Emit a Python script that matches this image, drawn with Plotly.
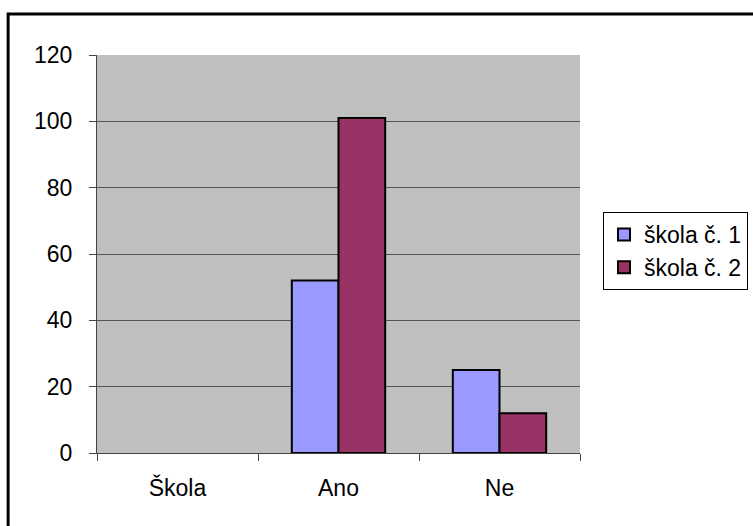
import plotly.graph_objects as go

categories = ["Škola", "Ano", "Ne"]
series1_name = "škola č. 1"
series2_name = "škola č. 2"
series1 = [None, 52, 25]
series2 = [None, 101, 12]
y_ticks = [0, 20, 40, 60, 80, 100, 120]

font = dict(family="Liberation Sans, Arial, sans-serif", size=23, color="black")

fig = go.Figure()
fig.add_trace(go.Bar(x=categories, y=series1, name=series1_name,
                     marker=dict(color="#9999FF", line=dict(color="black", width=2))))
fig.add_trace(go.Bar(x=categories, y=series2, name=series2_name,
                     marker=dict(color="#993366", line=dict(color="black", width=2))))

fig.update_layout(
    width=753, height=526,
    margin=dict(l=97, r=173, t=55, b=73, pad=0, autoexpand=False),
    paper_bgcolor="white", plot_bgcolor="#C0C0C0",
    font=font,
    barmode="group", bargap=0.42, bargroupgap=0,
    showlegend=True,
    legend=dict(xref="container", yref="container", x=603 / 753, y=1 - 212 / 526,
                xanchor="left", yanchor="top",
                bordercolor="black", borderwidth=1, bgcolor="white",
                font=font, itemwidth=30),
    xaxis=dict(type="category", tickson="boundaries", ticks="outside", ticklen=7,
               tickcolor="#444", showline=True, linecolor="#444", linewidth=1,
               showgrid=False, tickfont=font, ticklabelstandoff=14),
    yaxis=dict(range=[0, 120], tickvals=y_ticks, ticks="outside", ticklen=7,
               tickcolor="#444", showline=True, linecolor="#444", linewidth=1,
               showgrid=True, gridcolor="#555555", gridwidth=1,
               tickfont=font, zeroline=False, ticklabelstandoff=12),
    shapes=[dict(type="rect", xref="paper", yref="paper",
                 x0=-0.184, x1=1.4, y0=-0.25, y1=1.103,
                 line=dict(color="black", width=3), layer="below")],
)

fig.write_html("out.html", config={"displayModeBar": False},
               post_script="document.body.style.margin='0';document.body.style.padding='0';")
